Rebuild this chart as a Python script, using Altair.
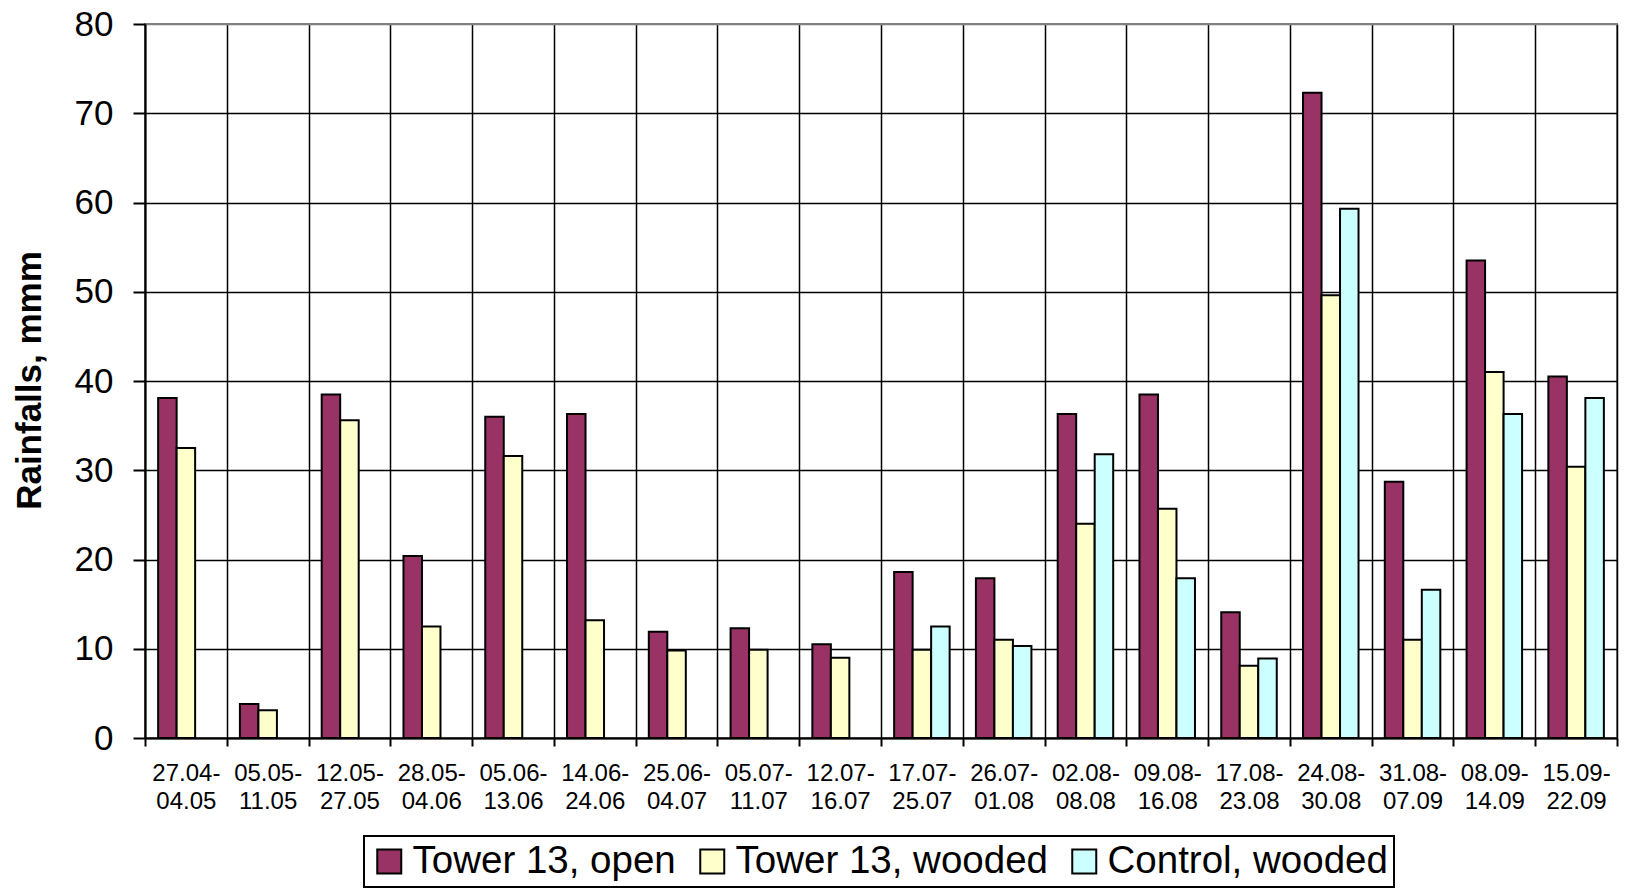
import altair as alt
import pandas as pd

# Sampling periods (start-end)
periods = [
    "27.04-04.05", "05.05-11.05", "12.05-27.05", "28.05-04.06", "05.06-13.06",
    "14.06-24.06", "25.06-04.07", "05.07-11.07", "12.07-16.07", "17.07-25.07",
    "26.07-01.08", "02.08-08.08", "09.08-16.08", "17.08-23.08", "24.08-30.08",
    "31.08-07.09", "08.09-14.09", "15.09-22.09",
]

series = ["Tower 13, open", "Tower 13, wooded", "Control, wooded"]
colors = ["#993366", "#FFFFCC", "#CCFFFF"]

# Rainfall per period, mm
tower_open = [38.1, 3.8, 38.5, 20.4, 36.0, 36.3, 11.9, 12.3, 10.5, 18.6,
              17.9, 36.3, 38.5, 14.1, 72.3, 28.7, 53.5, 40.5]
tower_wooded = [32.5, 3.1, 35.6, 12.5, 31.6, 13.2, 9.8, 9.9, 9.0, 9.9,
                11.0, 24.0, 25.7, 8.1, 49.6, 11.0, 41.0, 30.4]
control_wooded = [None, None, None, None, None, None, None, None, None, 12.5,
                  10.3, 31.8, 17.9, 8.9, 59.3, 16.6, 36.3, 38.1]

rows = []
for name, vals in zip(series, [tower_open, tower_wooded, control_wooded]):
    for p, v in zip(periods, vals):
        if v is not None:
            rows.append({"period": p, "series": name, "value": v})
df = pd.DataFrame(rows)

FONT = "Liberation Sans"

bars = alt.Chart(df).mark_bar(stroke="black", strokeWidth=2).encode(
    x=alt.X(
        "period:N",
        sort=periods,
        scale=alt.Scale(paddingInner=0, paddingOuter=0),
        axis=alt.Axis(
            title=None,
            labelAngle=0,
            labelFont=FONT,
            labelFontSize=24,
            labelColor="black",
            labelExpr="[slice(datum.label, 0, 6), slice(datum.label, 6)]",
            labelLineHeight=28,
            labelPadding=15,
            labelBaseline="top",
            tickBand="extent",
            tickSize=8,
            tickWidth=2,
            tickColor="black",
            domainColor="black",
            domainWidth=2,
            grid=True,
            gridColor="black",
            gridWidth=1.5,
        ),
    ),
    xOffset=alt.XOffset(
        "series:N",
        sort=series,
        scale=alt.Scale(domain=series, paddingOuter=0.71, paddingInner=0),
    ),
    y=alt.Y(
        "value:Q",
        scale=alt.Scale(domain=[0, 80], nice=False),
        axis=alt.Axis(
            title="Rainfalls, mmm",
            titleFont=FONT,
            titleFontSize=35,
            titleFontWeight="bold",
            titleColor="black",
            titleX=-116,
            titleY=356,
            titleAngle=270,
            titleBaseline="middle",
            titleAlign="center",
            values=[0, 10, 20, 30, 40, 50, 60, 70, 80],
            labelFont=FONT,
            labelFontSize=35,
            labelColor="black",
            labelPadding=20,
            tickSize=12,
            tickWidth=2,
            tickColor="black",
            domainColor="black",
            domainWidth=2,
            grid=True,
            gridColor={"condition": {"test": "datum.value === 80", "value": "#808080"}, "value": "black"},
            gridWidth=1.5,
        ),
    ),
    color=alt.Color(
        "series:N",
        sort=series,
        scale=alt.Scale(domain=series, range=colors),
        legend=alt.Legend(
            title=None,
            orient="none",
            legendX=219,
            legendY=812,
            direction="horizontal",
            columns=3,
            symbolType="square",
            symbolSize=576,
            symbolStrokeColor="black",
            symbolStrokeWidth=2,
            symbolOpacity=1,
            labelFont=FONT,
            labelFontSize=38.5,
            labelColor="black",
            labelLimit=600,
            labelOffset=4,
            columnPadding=17,
            padding=6,
        ),
    ),
)

chart = bars.properties(
    width=1472,
    height=714,
    autosize=alt.AutoSizeParams(type="none"),
    padding={"left": 145, "top": 24, "right": 8, "bottom": 153},
).configure_view(
    stroke="#808080",
    strokeWidth=2,
).configure_legend(
    strokeColor="black",
    strokeWidth=2,
)

chart.save("out.html", embed_options={"renderer": "svg", "actions": False})
